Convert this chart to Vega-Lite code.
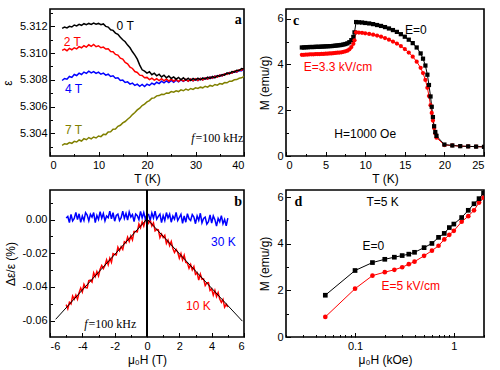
{
"$schema": "https://vega.github.io/schema/vega-lite/v6.json",
"padding": {"left": 0, "top": 8, "right": 5, "bottom": 5},
"bounds": "flush",
"columns": 2,
"spacing": {"row": 34, "column": 42},
"resolve": {"scale": {"color": "independent", "shape": "independent"}},
"config": {
 "view": {"stroke": "black", "strokeWidth": 1.6},
 "axis": {"domain": false, "grid": false, "tickColor": "black", "tickSize": -4.5, "tickWidth": 1, "labelPadding": 7.5, "labelFont": "Liberation Sans", "labelFontSize": 11, "labelColor": "black", "titleFont": "Liberation Sans", "titleFontSize": 12, "titleFontWeight": "normal", "titleColor": "black"},
 "text": {"font": "Liberation Sans", "fontSize": 12}
},
"concat": [
{
 "width": 194, "height": 147,
 "data": {"values": [
{"T":2.5,"k0":5.31185,"k2":5.31020,"k4":5.30795,"k7":5.30310},
{"T":3.0,"k0":5.31195,"k2":5.31030,"k4":5.30810,"k7":5.30322},
{"T":3.5,"k0":5.31188,"k2":5.31018,"k4":5.30805,"k7":5.30318},
{"T":4.0,"k0":5.31200,"k2":5.31035,"k4":5.30825,"k7":5.30330},
{"T":4.5,"k0":5.31195,"k2":5.31025,"k4":5.30818,"k7":5.30325},
{"T":5.0,"k0":5.31210,"k2":5.31040,"k4":5.30840,"k7":5.30340},
{"T":5.5,"k0":5.31203,"k2":5.31032,"k4":5.30832,"k7":5.30335},
{"T":6.0,"k0":5.31215,"k2":5.31048,"k4":5.30850,"k7":5.30350},
{"T":6.5,"k0":5.31208,"k2":5.31040,"k4":5.30840,"k7":5.30342},
{"T":7.0,"k0":5.31220,"k2":5.31055,"k4":5.30858,"k7":5.30360},
{"T":7.5,"k0":5.31212,"k2":5.31045,"k4":5.30848,"k7":5.30352},
{"T":8.0,"k0":5.31222,"k2":5.31062,"k4":5.30865,"k7":5.30368},
{"T":8.5,"k0":5.31215,"k2":5.31050,"k4":5.30852,"k7":5.30358},
{"T":9.0,"k0":5.31225,"k2":5.31065,"k4":5.30862,"k7":5.30372},
{"T":9.5,"k0":5.31216,"k2":5.31048,"k4":5.30848,"k7":5.30365},
{"T":10.0,"k0":5.31222,"k2":5.31055,"k4":5.30858,"k7":5.30380},
{"T":10.5,"k0":5.31212,"k2":5.31040,"k4":5.30842,"k7":5.30375},
{"T":11.0,"k0":5.31218,"k2":5.31045,"k4":5.30850,"k7":5.30392},
{"T":11.5,"k0":5.31200,"k2":5.31030,"k4":5.30835,"k7":5.30390},
{"T":12.0,"k0":5.31195,"k2":5.31032,"k4":5.30842,"k7":5.30410},
{"T":12.5,"k0":5.31175,"k2":5.31012,"k4":5.30825,"k7":5.30412},
{"T":13.0,"k0":5.31170,"k2":5.31010,"k4":5.30830,"k7":5.30430},
{"T":13.5,"k0":5.31150,"k2":5.30990,"k4":5.30812,"k7":5.30432},
{"T":14.0,"k0":5.31140,"k2":5.30985,"k4":5.30815,"k7":5.30452},
{"T":14.5,"k0":5.31118,"k2":5.30962,"k4":5.30795,"k7":5.30460},
{"T":15.0,"k0":5.31100,"k2":5.30955,"k4":5.30798,"k7":5.30478},
{"T":15.5,"k0":5.31085,"k2":5.30930,"k4":5.30780,"k7":5.30488},
{"T":16.0,"k0":5.31060,"k2":5.30920,"k4":5.30785,"k7":5.30505},
{"T":16.5,"k0":5.31040,"k2":5.30895,"k4":5.30768,"k7":5.30520},
{"T":17.0,"k0":5.31010,"k2":5.30885,"k4":5.30775,"k7":5.30540},
{"T":17.5,"k0":5.30985,"k2":5.30862,"k4":5.30758,"k7":5.30555},
{"T":18.0,"k0":5.30955,"k2":5.30855,"k4":5.30768,"k7":5.30575},
{"T":18.5,"k0":5.30910,"k2":5.30835,"k4":5.30752,"k7":5.30588},
{"T":19.0,"k0":5.30875,"k2":5.30832,"k4":5.30765,"k7":5.30608},
{"T":19.5,"k0":5.30865,"k2":5.30815,"k4":5.30750,"k7":5.30618},
{"T":20.0,"k0":5.30850,"k2":5.30818,"k4":5.30768,"k7":5.30635},
{"T":20.5,"k0":5.30860,"k2":5.30802,"k4":5.30758,"k7":5.30645},
{"T":21.0,"k0":5.30838,"k2":5.30812,"k4":5.30775,"k7":5.30662},
{"T":21.5,"k0":5.30850,"k2":5.30798,"k4":5.30765,"k7":5.30665},
{"T":22.0,"k0":5.30830,"k2":5.30808,"k4":5.30782,"k7":5.30680},
{"T":22.5,"k0":5.30842,"k2":5.30795,"k4":5.30772,"k7":5.30682},
{"T":23.0,"k0":5.30822,"k2":5.30808,"k4":5.30790,"k7":5.30692},
{"T":23.5,"k0":5.30835,"k2":5.30792,"k4":5.30778,"k7":5.30690},
{"T":24.0,"k0":5.30815,"k2":5.30806,"k4":5.30792,"k7":5.30702},
{"T":24.5,"k0":5.30828,"k2":5.30790,"k4":5.30780,"k7":5.30700},
{"T":25.0,"k0":5.30810,"k2":5.30805,"k4":5.30795,"k7":5.30712},
{"T":25.5,"k0":5.30822,"k2":5.30790,"k4":5.30782,"k7":5.30708},
{"T":26.0,"k0":5.30805,"k2":5.30805,"k4":5.30798,"k7":5.30718},
{"T":26.5,"k0":5.30818,"k2":5.30788,"k4":5.30785,"k7":5.30712},
{"T":27.0,"k0":5.30800,"k2":5.30803,"k4":5.30800,"k7":5.30725},
{"T":27.5,"k0":5.30815,"k2":5.30790,"k4":5.30788,"k7":5.30718},
{"T":28.0,"k0":5.30798,"k2":5.30805,"k4":5.30802,"k7":5.30730},
{"T":28.5,"k0":5.30812,"k2":5.30790,"k4":5.30790,"k7":5.30722},
{"T":29.0,"k0":5.30795,"k2":5.30806,"k4":5.30805,"k7":5.30735},
{"T":29.5,"k0":5.30810,"k2":5.30792,"k4":5.30792,"k7":5.30728},
{"T":30.0,"k0":5.30798,"k2":5.30808,"k4":5.30806,"k7":5.30740},
{"T":30.5,"k0":5.30812,"k2":5.30795,"k4":5.30795,"k7":5.30735},
{"T":31.0,"k0":5.30800,"k2":5.30810,"k4":5.30810,"k7":5.30745},
{"T":31.5,"k0":5.30815,"k2":5.30798,"k4":5.30800,"k7":5.30740},
{"T":32.0,"k0":5.30805,"k2":5.30815,"k4":5.30815,"k7":5.30752},
{"T":32.5,"k0":5.30820,"k2":5.30805,"k4":5.30805,"k7":5.30745},
{"T":33.0,"k0":5.30810,"k2":5.30820,"k4":5.30822,"k7":5.30758},
{"T":33.5,"k0":5.30825,"k2":5.30812,"k4":5.30812,"k7":5.30752},
{"T":34.0,"k0":5.30815,"k2":5.30828,"k4":5.30828,"k7":5.30765},
{"T":34.5,"k0":5.30832,"k2":5.30820,"k4":5.30822,"k7":5.30760},
{"T":35.0,"k0":5.30825,"k2":5.30835,"k4":5.30835,"k7":5.30772},
{"T":35.5,"k0":5.30840,"k2":5.30830,"k4":5.30830,"k7":5.30768},
{"T":36.0,"k0":5.30835,"k2":5.30845,"k4":5.30845,"k7":5.30780},
{"T":36.5,"k0":5.30852,"k2":5.30840,"k4":5.30842,"k7":5.30778},
{"T":37.0,"k0":5.30845,"k2":5.30855,"k4":5.30855,"k7":5.30790},
{"T":37.5,"k0":5.30862,"k2":5.30850,"k4":5.30850,"k7":5.30790},
{"T":38.0,"k0":5.30858,"k2":5.30865,"k4":5.30862,"k7":5.30800},
{"T":38.5,"k0":5.30872,"k2":5.30860,"k4":5.30858,"k7":5.30802},
{"T":39.0,"k0":5.30870,"k2":5.30875,"k4":5.30870,"k7":5.30812},
{"T":39.5,"k0":5.30885,"k2":5.30872,"k4":5.30868,"k7":5.30815},
{"T":40.0,"k0":5.30880,"k2":5.30885,"k4":5.30880,"k7":5.30825}
 ]},
 "resolve": {"axis": {"x": "independent", "y": "independent"}},
 "layer": [
  {
   "transform": [{"fold": ["k7","k4","k2","k0"], "as": ["series","eps"]}],
   "mark": {"type": "line", "strokeWidth": 1.5, "clip": true},
   "encoding": {
    "x": {"field": "T", "type": "quantitative", "scale": {"domain": [0,40], "nice": false, "zero": false}, "axis": {"orient": "bottom", "values": [0,10,20,30,40], "title": "T (K)", "titlePadding": 3}},
    "y": {"field": "eps", "type": "quantitative", "scale": {"domain": [5.3023,5.3133], "nice": false, "zero": false}, "axis": {"orient": "left", "values": [5.304,5.306,5.308,5.31,5.312], "format": ".3f", "title": "ε", "titlePadding": 5}},
    "color": {"field": "series", "type": "nominal", "scale": {"domain": ["k0","k2","k4","k7"], "range": ["#000000","#ff0000","#0000ff","#808000"]}, "legend": null}
   }
  },
  {
   "data": {"values": [
    {"T":15.5,"eps":5.3120,"series":"k0","label":"0 T"},
    {"T":4.6,"eps":5.31083,"series":"k2","label":"2 T"},
    {"T":4.85,"eps":5.30731,"series":"k4","label":"4 T"},
    {"T":4.85,"eps":5.30425,"series":"k7","label":"7 T"}
   ]},
   "mark": {"type": "text", "fontSize": 12},
   "encoding": {
    "x": {"field": "T", "type": "quantitative", "axis": {"orient": "bottom", "values": [5,15,25,35], "labels": false, "tickSize": -2.5, "title": null}},
    "y": {"field": "eps", "type": "quantitative", "axis": {"orient": "left", "values": [5.303,5.305,5.307,5.309,5.311,5.313], "labels": false, "tickSize": -2.5, "title": null}},
    "text": {"field": "label"},
    "color": {"field": "series", "type": "nominal", "legend": null}
   }
  },
  {
   "data": {"values": [{"T":38.8,"eps":5.31245,"label":"a"}]},
   "mark": {"type": "text", "font": "Liberation Serif", "fontWeight": "bold", "fontSize": 14},
   "encoding": {"x": {"field": "T", "type": "quantitative", "axis": null}, "y": {"field": "eps", "type": "quantitative", "axis": null}, "text": {"field": "label"}}
  },
  {
   "data": {"values": [{"T":29.8,"eps":5.30363,"f":"f","rest":"=100 kHz"}]},
   "layer": [
    {"mark": {"type": "text", "font": "Liberation Serif", "fontStyle": "italic", "fontSize": 12, "align": "right"},
     "encoding": {"x": {"field": "T", "type": "quantitative", "axis": null}, "y": {"field": "eps", "type": "quantitative", "axis": null}, "text": {"field": "f"}}},
    {"mark": {"type": "text", "font": "Liberation Serif", "fontSize": 12, "align": "left", "dx": 1},
     "encoding": {"x": {"field": "T", "type": "quantitative", "axis": null}, "y": {"field": "eps", "type": "quantitative", "axis": null}, "text": {"field": "rest"}}}
   ]
  }
 ]
},
{
 "width": 198, "height": 147,
 "data": {"values": [
{"T":2.0,"m0":4.74,"m3":4.42},{"T":2.25,"m0":4.74,"m3":4.42},{"T":2.5,"m0":4.75,"m3":4.43},{"T":2.75,"m0":4.75,"m3":4.43},
{"T":3.0,"m0":4.76,"m3":4.44},{"T":3.25,"m0":4.76,"m3":4.44},{"T":3.5,"m0":4.76,"m3":4.44},{"T":3.75,"m0":4.77,"m3":4.45},
{"T":4.0,"m0":4.77,"m3":4.45},{"T":4.25,"m0":4.77,"m3":4.45},{"T":4.5,"m0":4.78,"m3":4.46},{"T":4.75,"m0":4.78,"m3":4.46},
{"T":5.0,"m0":4.79,"m3":4.47},{"T":5.25,"m0":4.79,"m3":4.47},{"T":5.5,"m0":4.80,"m3":4.48},{"T":5.75,"m0":4.80,"m3":4.48},
{"T":6.0,"m0":4.81,"m3":4.49},{"T":6.25,"m0":4.82,"m3":4.50},{"T":6.5,"m0":4.83,"m3":4.51},{"T":6.75,"m0":4.84,"m3":4.52},
{"T":7.0,"m0":4.85,"m3":4.53},{"T":7.25,"m0":4.87,"m3":4.55},{"T":7.5,"m0":4.89,"m3":4.57},{"T":7.75,"m0":4.92,"m3":4.60},
{"T":8.0,"m0":4.97,"m3":4.66},{"T":8.25,"m0":5.06,"m3":4.76},{"T":8.5,"m0":5.20,"m3":4.90},{"T":8.65,"m0":5.40,"m3":5.05},
{"T":8.85,"m0":5.85,"m3":5.40},{"T":9.2,"m0":5.84,"m3":5.39},{"T":9.6,"m0":5.83,"m3":5.38},{"T":10.0,"m0":5.81,"m3":5.36},
{"T":10.5,"m0":5.79,"m3":5.33},{"T":11.0,"m0":5.76,"m3":5.30},{"T":11.5,"m0":5.72,"m3":5.26},{"T":12.0,"m0":5.68,"m3":5.21},
{"T":12.5,"m0":5.63,"m3":5.15},{"T":13.0,"m0":5.57,"m3":5.08},{"T":13.5,"m0":5.50,"m3":5.00},{"T":14.0,"m0":5.42,"m3":4.91},
{"T":14.5,"m0":5.32,"m3":4.80},{"T":15.0,"m0":5.21,"m3":4.67},{"T":15.5,"m0":5.08,"m3":4.52},{"T":16.0,"m0":4.93,"m3":4.34},
{"T":16.5,"m0":4.74,"m3":4.12},{"T":17.0,"m0":4.48,"m3":3.85},{"T":17.3,"m0":4.25,"m3":3.62},{"T":17.6,"m0":3.95,"m3":3.32},
{"T":17.85,"m0":3.55,"m3":2.98},{"T":18.05,"m0":3.10,"m3":2.62},{"T":18.25,"m0":2.60,"m3":2.22},{"T":18.4,"m0":2.15,"m3":1.88},
{"T":18.55,"m0":1.70,"m3":1.55},{"T":18.7,"m0":1.30,"m3":1.22},{"T":18.85,"m0":1.05,"m3":0.98},{"T":19.0,"m0":0.88,"m3":0.80},
{"T":20.0,"m0":0.50,"m3":0.48},{"T":21.0,"m0":0.46,"m3":0.46},{"T":22.0,"m0":0.43,"m3":0.43},{"T":23.0,"m0":0.42,"m3":0.42},
{"T":24.0,"m0":0.41,"m3":0.41},{"T":25.0,"m0":0.40,"m3":0.40}
 ]},
 "resolve": {"axis": {"x": "independent", "y": "independent"}},
 "layer": [
  {
   "transform": [{"fold": ["m3","m0"], "as": ["series","M"]}],
   "mark": {"type": "line", "strokeWidth": 1, "clip": true},
   "encoding": {
    "x": {"field": "T", "type": "quantitative", "scale": {"domain": [0,25], "nice": false, "zero": false}, "axis": {"orient": "bottom", "values": [0,5,10,15,20,25], "title": "T (K)", "titlePadding": 3}},
    "y": {"field": "M", "type": "quantitative", "scale": {"domain": [0,6.42], "nice": false, "zero": false}, "axis": {"orient": "left", "values": [0,2,4,6], "title": "M (emu/g)", "titlePadding": 5}},
    "color": {"field": "series", "type": "nominal", "scale": {"domain": ["m0","m3"], "range": ["#000000","#ff0000"]}, "legend": null}
   }
  },
  {
   "transform": [{"fold": ["m3","m0"], "as": ["series","M"]}],
   "mark": {"type": "point", "filled": true, "opacity": 1, "size": 18, "clip": true},
   "encoding": {
    "x": {"field": "T", "type": "quantitative", "axis": {"orient": "bottom", "values": [2.5,7.5,12.5,17.5,22.5], "labels": false, "tickSize": -2.5, "title": null}},
    "y": {"field": "M", "type": "quantitative", "axis": {"orient": "left", "values": [1,3,5], "labels": false, "tickSize": -2.5, "title": null}},
    "color": {"field": "series", "type": "nominal", "legend": null},
    "shape": {"field": "series", "type": "nominal", "scale": {"domain": ["m0","m3"], "range": ["square","circle"]}, "legend": null}
   }
  },
  {
   "data": {"values": [
    {"T":16.4,"M":5.52,"series":"m0","label":"E=0"},
    {"T":6.56,"M":3.9,"series":"m3","label":"E=3.3 kV/cm"},
    {"T":10.0,"M":0.98,"series":"m0","label":"H=1000 Oe"}
   ]},
   "mark": {"type": "text", "fontSize": 12},
   "encoding": {
    "x": {"field": "T", "type": "quantitative", "axis": null},
    "y": {"field": "M", "type": "quantitative", "axis": null},
    "text": {"field": "label"},
    "color": {"field": "series", "type": "nominal", "legend": null}
   }
  },
  {
   "data": {"values": [{"T":1.27,"M":5.89,"label":"c"}]},
   "mark": {"type": "text", "font": "Liberation Serif", "fontWeight": "bold", "fontSize": 14},
   "encoding": {"x": {"field": "T", "type": "quantitative", "axis": null}, "y": {"field": "M", "type": "quantitative", "axis": null}, "text": {"field": "label"}}
  }
 ]
},
{
 "width": 194, "height": 147,
 "data": {"values": [
{"H":-5.0,"r":-0.0505,"bl":0.0009},{"H":-4.9,"r":-0.0530,"bl":0.0018},{"H":-4.8,"r":-0.0491,"bl":-0.0018},{"H":-4.7,"r":-0.0501,"bl":0.0030},
{"H":-4.6,"r":-0.0454,"bl":-0.0008},{"H":-4.5,"r":-0.0473,"bl":0.0006},{"H":-4.4,"r":-0.0448,"bl":0.0042},{"H":-4.3,"r":-0.0473,"bl":-0.0001},
{"H":-4.2,"r":-0.0434,"bl":0.0034},{"H":-4.1,"r":-0.0407,"bl":-0.0017},{"H":-4.0,"r":-0.0430,"bl":0.0020},{"H":-3.9,"r":-0.0384,"bl":-0.0006},
{"H":-3.8,"r":-0.0404,"bl":0.0041},{"H":-3.7,"r":-0.0406,"bl":0.0026},{"H":-3.6,"r":-0.0363,"bl":-0.0008},{"H":-3.5,"r":-0.0360,"bl":0.0031},
{"H":-3.4,"r":-0.0371,"bl":0.0014},{"H":-3.3,"r":-0.0317,"bl":0.0041},{"H":-3.2,"r":-0.0339,"bl":-0.0018},{"H":-3.1,"r":-0.0309,"bl":0.0024},
{"H":-3.0,"r":-0.0335,"bl":0.0000},{"H":-2.9,"r":-0.0295,"bl":0.0047},{"H":-2.8,"r":-0.0273,"bl":0.0007},{"H":-2.7,"r":-0.0291,"bl":0.0035},
{"H":-2.6,"r":-0.0272,"bl":-0.0008},{"H":-2.5,"r":-0.0239,"bl":0.0021},{"H":-2.4,"r":-0.0269,"bl":0.0011},{"H":-2.3,"r":-0.0230,"bl":0.0050},
{"H":-2.2,"r":-0.0254,"bl":0.0004},{"H":-2.1,"r":-0.0202,"bl":0.0040},{"H":-2.0,"r":-0.0207,"bl":-0.0010},{"H":-1.9,"r":-0.0211,"bl":0.0024},
{"H":-1.8,"r":-0.0164,"bl":0.0032},{"H":-1.7,"r":-0.0185,"bl":-0.0006},{"H":-1.6,"r":-0.0161,"bl":0.0011},{"H":-1.5,"r":-0.0178,"bl":0.0050},
{"H":-1.4,"r":-0.0132,"bl":0.0007},{"H":-1.3,"r":-0.0139,"bl":0.0036},{"H":-1.2,"r":-0.0105,"bl":-0.0003},{"H":-1.1,"r":-0.0130,"bl":0.0045},
{"H":-1.0,"r":-0.0098,"bl":0.0015},{"H":-0.9,"r":-0.0121,"bl":0.0029},{"H":-0.8,"r":-0.0071,"bl":-0.0012},{"H":-0.7,"r":-0.0071,"bl":0.0033},
{"H":-0.6,"r":-0.0073,"bl":0.0023},{"H":-0.5,"r":-0.0027,"bl":-0.0001},{"H":-0.4,"r":-0.0049,"bl":0.0048},{"H":-0.3,"r":-0.0014,"bl":0.0009},
{"H":-0.2,"r":-0.0039,"bl":0.0041},{"H":-0.1,"r":-0.0001,"bl":0.0002},{"H":0.0,"r":0.0005,"bl":0.0030},{"H":0.1,"r":-0.0022,"bl":0.0030},
{"H":0.2,"r":-0.0003,"bl":-0.0005},{"H":0.3,"r":-0.0038,"bl":0.0039},{"H":0.4,"r":-0.0020,"bl":0.0008},{"H":0.5,"r":-0.0067,"bl":0.0050},
{"H":0.6,"r":-0.0059,"bl":0.0002},{"H":0.7,"r":-0.0062,"bl":0.0019},{"H":0.8,"r":-0.0107,"bl":0.0032},{"H":0.9,"r":-0.0086,"bl":-0.0019},
{"H":1.0,"r":-0.0107,"bl":0.0023},{"H":1.1,"r":-0.0094,"bl":-0.0006},{"H":1.2,"r":-0.0142,"bl":0.0041},{"H":1.3,"r":-0.0122,"bl":0.0009},
{"H":1.4,"r":-0.0155,"bl":0.0032},{"H":1.5,"r":-0.0131,"bl":-0.0016},{"H":1.6,"r":-0.0172,"bl":0.0020},{"H":1.7,"r":-0.0196,"bl":0.0002},
{"H":1.8,"r":-0.0177,"bl":0.0042},{"H":1.9,"r":-0.0194,"bl":-0.0006},{"H":2.0,"r":-0.0230,"bl":0.0012},{"H":2.1,"r":-0.0202,"bl":0.0031},
{"H":2.2,"r":-0.0240,"bl":-0.0023},{"H":2.3,"r":-0.0212,"bl":0.0021},{"H":2.4,"r":-0.0255,"bl":-0.0016},{"H":2.5,"r":-0.0258,"bl":0.0035},
{"H":2.6,"r":-0.0290,"bl":0.0004},{"H":2.7,"r":-0.0267,"bl":-0.0006},{"H":2.8,"r":-0.0299,"bl":0.0029},{"H":2.9,"r":-0.0279,"bl":0.0015},
{"H":3.0,"r":-0.0325,"bl":-0.0025},{"H":3.1,"r":-0.0316,"bl":0.0021},{"H":3.2,"r":-0.0359,"bl":-0.0005},{"H":3.3,"r":-0.0324,"bl":0.0037},
{"H":3.4,"r":-0.0355,"bl":-0.0020},{"H":3.5,"r":-0.0352,"bl":0.0006},{"H":3.6,"r":-0.0392,"bl":0.0014},{"H":3.7,"r":-0.0376,"bl":-0.0027},
{"H":3.8,"r":-0.0374,"bl":-0.0013},{"H":3.9,"r":-0.0421,"bl":0.0027},{"H":4.0,"r":-0.0411,"bl":-0.0021},{"H":4.1,"r":-0.0449,"bl":0.0021},
{"H":4.2,"r":-0.0420,"bl":-0.0001},{"H":4.3,"r":-0.0457,"bl":-0.0039},{"H":4.4,"r":-0.0434,"bl":0.0007},{"H":4.5,"r":-0.0472,"bl":-0.0014},
{"H":4.6,"r":-0.0492,"bl":0.0023},{"H":4.7,"r":-0.0474,"bl":-0.0025},{"H":4.8,"r":-0.0520,"bl":0.0000},{"H":4.9,"r":-0.0503,"bl":-0.0037},
{"H":5.0,"r":-0.0519,"bl":0.0008}
 ]},
 "resolve": {"axis": {"x": "independent", "y": "independent"}},
 "layer": [
  {
   "transform": [{"fold": ["r","bl"], "as": ["series","d"]}],
   "mark": {"type": "line", "strokeWidth": 1.5, "clip": true},
   "encoding": {
    "x": {"field": "H", "type": "quantitative", "scale": {"domain": [-6,6], "nice": false, "zero": false}, "axis": {"orient": "bottom", "values": [-6,-4,-2,0,2,4,6], "labelExpr": "replace(datum.label, '−', '-')", "title": "μ₀H (T)", "titlePadding": 3}},
    "y": {"field": "d", "type": "quantitative", "scale": {"domain": [-0.0697,0.0175], "nice": false, "zero": false}, "axis": {"orient": "left", "values": [-0.06,-0.04,-0.02,0], "format": ".2f", "labelExpr": "replace(datum.label, '−', '-')", "title": "Δε/ε (%)", "titlePadding": 4}},
    "color": {"field": "series", "type": "nominal", "scale": {"domain": ["r","bl"], "range": ["#ff0000","#0000ff"]}, "legend": null}
   }
  },
  {
   "data": {"values": [{"H":-5.65,"d":-0.0592},{"H":0,"d":0.0003},{"H":5.9,"d":-0.0603}]},
   "mark": {"type": "line", "strokeWidth": 1, "color": "black", "clip": true},
   "encoding": {
    "x": {"field": "H", "type": "quantitative", "axis": {"orient": "bottom", "values": [-5,-3,-1,1,3,5], "labels": false, "tickSize": -2.5, "title": null}},
    "y": {"field": "d", "type": "quantitative", "axis": {"orient": "left", "values": [-0.05,-0.03,-0.01,0.01], "labels": false, "tickSize": -2.5, "title": null}}
   }
  },
  {
   "mark": {"type": "rule", "strokeWidth": 1.5, "color": "black"},
   "encoding": {"x": {"datum": 0, "type": "quantitative", "axis": null}}
  },
  {
   "data": {"values": [
    {"H":4.72,"d":-0.0136,"series":"bl","label":"30 K"},
    {"H":3.18,"d":-0.0514,"series":"r","label":"10 K"}
   ]},
   "mark": {"type": "text", "fontSize": 12},
   "encoding": {
    "x": {"field": "H", "type": "quantitative", "axis": null},
    "y": {"field": "d", "type": "quantitative", "axis": null},
    "text": {"field": "label"},
    "color": {"field": "series", "type": "nominal", "legend": null}
   }
  },
  {
   "data": {"values": [{"H":5.64,"d":0.0103,"label":"b"}]},
   "mark": {"type": "text", "font": "Liberation Serif", "fontWeight": "bold", "fontSize": 14},
   "encoding": {"x": {"field": "H", "type": "quantitative", "axis": null}, "y": {"field": "d", "type": "quantitative", "axis": null}, "text": {"field": "label"}}
  },
  {
   "data": {"values": [{"H":-3.68,"d":-0.0622,"f":"f","rest":"=100 kHz"}]},
   "layer": [
    {"mark": {"type": "text", "font": "Liberation Serif", "fontStyle": "italic", "fontSize": 12, "align": "right"},
     "encoding": {"x": {"field": "H", "type": "quantitative", "axis": null}, "y": {"field": "d", "type": "quantitative", "axis": null}, "text": {"field": "f"}}},
    {"mark": {"type": "text", "font": "Liberation Serif", "fontSize": 12, "align": "left", "dx": 1},
     "encoding": {"x": {"field": "H", "type": "quantitative", "axis": null}, "y": {"field": "d", "type": "quantitative", "axis": null}, "text": {"field": "rest"}}}
   ]
  }
 ]
},
{
 "width": 198, "height": 147,
 "data": {"values": [
{"H":0.05,"m0":1.79,"m5":0.86},{"H":0.1,"m0":2.85,"m5":2.07},{"H":0.15,"m0":3.19,"m5":2.63},{"H":0.2,"m0":3.33,"m5":2.78},
{"H":0.25,"m0":3.42,"m5":2.88},{"H":0.3,"m0":3.49,"m5":2.99},{"H":0.35,"m0":3.55,"m5":3.12},{"H":0.4,"m0":3.63,"m5":3.23},
{"H":0.5,"m0":3.83,"m5":3.48},{"H":0.6,"m0":4.01,"m5":3.70},{"H":0.7,"m0":4.27,"m5":3.91},{"H":0.8,"m0":4.44,"m5":4.18},
{"H":0.9,"m0":4.69,"m5":4.38},{"H":1.0,"m0":4.84,"m5":4.55},{"H":1.2,"m0":5.12,"m5":4.94},{"H":1.4,"m0":5.43,"m5":5.18},
{"H":1.6,"m0":5.71,"m5":5.43},{"H":1.8,"m0":5.93,"m5":5.76},{"H":2.0,"m0":6.17,"m5":5.97}
 ]},
 "resolve": {"axis": {"x": "independent", "y": "independent"}},
 "layer": [
  {
   "transform": [{"fold": ["m5","m0"], "as": ["series","M"]}],
   "mark": {"type": "line", "strokeWidth": 1, "clip": true},
   "encoding": {
    "x": {"field": "H", "type": "quantitative", "scale": {"type": "log", "domain": [0.02,2.02], "nice": false}, "axis": {"orient": "bottom", "values": [0.1,1], "format": "~g", "title": "μ₀H (kOe)", "titlePadding": 3}},
    "y": {"field": "M", "type": "quantitative", "scale": {"domain": [0,6.3], "nice": false, "zero": false}, "axis": {"orient": "left", "values": [0,2,4,6], "title": "M (emu/g)", "titlePadding": 5}},
    "color": {"field": "series", "type": "nominal", "scale": {"domain": ["m0","m5"], "range": ["#000000","#ff0000"]}, "legend": null}
   }
  },
  {
   "transform": [{"fold": ["m5","m0"], "as": ["series","M"]}],
   "mark": {"type": "point", "filled": true, "opacity": 1, "size": 22, "clip": true},
   "encoding": {
    "x": {"field": "H", "type": "quantitative", "axis": {"orient": "bottom", "values": [0.02,0.03,0.04,0.05,0.06,0.07,0.08,0.09,0.2,0.3,0.4,0.5,0.6,0.7,0.8,0.9,2], "labels": false, "tickSize": -2.5, "title": null}},
    "y": {"field": "M", "type": "quantitative", "axis": {"orient": "left", "values": [1,3,5], "labels": false, "tickSize": -2.5, "title": null}},
    "color": {"field": "series", "type": "nominal", "legend": null},
    "shape": {"field": "series", "type": "nominal", "scale": {"domain": ["m0","m5"], "range": ["square","circle"]}, "legend": null}
   }
  },
  {
   "data": {"values": [
    {"H":0.19,"M":5.79,"series":"m0","label":"T=5 K"},
    {"H":0.153,"M":3.9,"series":"m0","label":"E=0"},
    {"H":0.366,"M":2.2,"series":"m5","label":"E=5 kV/cm"}
   ]},
   "mark": {"type": "text", "fontSize": 12},
   "encoding": {
    "x": {"field": "H", "type": "quantitative", "axis": null},
    "y": {"field": "M", "type": "quantitative", "axis": null},
    "text": {"field": "label"},
    "color": {"field": "series", "type": "nominal", "legend": null}
   }
  },
  {
   "data": {"values": [{"H":0.0267,"M":5.79,"label":"d"}]},
   "mark": {"type": "text", "font": "Liberation Serif", "fontWeight": "bold", "fontSize": 14},
   "encoding": {"x": {"field": "H", "type": "quantitative", "axis": null}, "y": {"field": "M", "type": "quantitative", "axis": null}, "text": {"field": "label"}}
  }
 ]
}
]
}
